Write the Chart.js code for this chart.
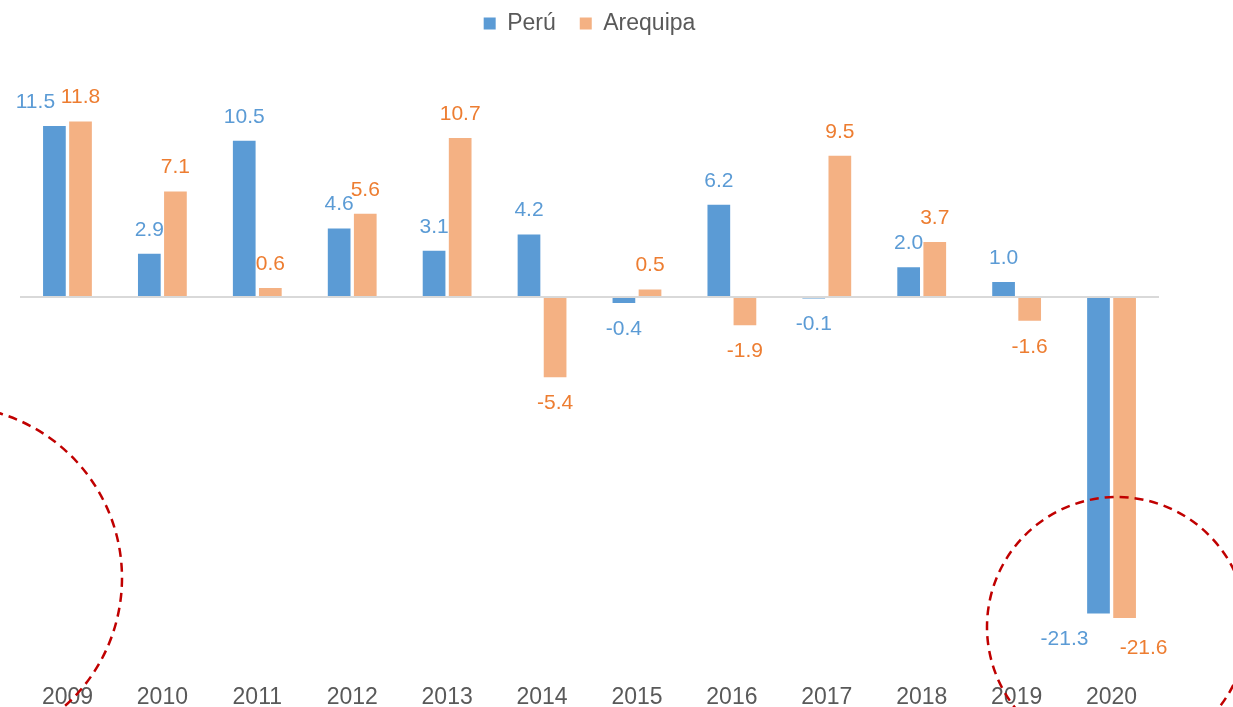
<!DOCTYPE html>
<html>
<head>
<meta charset="utf-8">
<script src="https://cdn.jsdelivr.net/npm/chart.js@4.4.1/dist/chart.umd.min.js"></script>
<style>
  html, body { margin: 0; padding: 0; background: #ffffff; }
  #wrap { width: 1233px; height: 707px; position: relative; }
</style>
</head>
<body>
<div id="wrap"><canvas id="c" width="1233" height="707"></canvas></div>
<script>
const years = ['2009','2010','2011','2012','2013','2014','2015','2016','2017','2018','2019','2020'];
const peru = [11.5, 2.9, 10.5, 4.6, 3.1, 4.2, -0.4, 6.2, -0.1, 2.0, 1.0, -21.3];
const arequipa = [11.8, 7.1, 0.6, 5.6, 10.7, -5.4, 0.5, -1.9, 9.5, 3.7, -1.6, -21.6];
const seriesNames = ['Perú', 'Arequipa'];

const barColors = ['#5B9BD5', '#F4B183'];
const labelColors = ['#5B9BD5', '#ED7D31'];
const textGrey = '#595959';
const FONT = '"Liberation Sans", Arial, sans-serif';

// manual label nudges (dataset index, point index) -> [dx, dy]
const labelNudge = {
  '0-0': [-19, 0],
  '0-11': [-34, 0],
  '1-11': [19, 4]
};

const labelPlugin = {
  id: 'barLabels',
  afterDatasetsDraw(chart) {
    const ctx = chart.ctx;
    ctx.save();
    ctx.font = '21px ' + FONT;
    ctx.textAlign = 'center';
    ctx.textBaseline = 'middle';
    chart.data.datasets.forEach((ds, di) => {
      const meta = chart.getDatasetMeta(di);
      meta.data.forEach((bar, i) => {
        const v = ds.data[i];
        const n = labelNudge[di + '-' + i] || [0, 0];
        const y = v >= 0 ? bar.y - 24 : bar.y + 26;
        ctx.fillStyle = labelColors[di];
        ctx.fillText(v.toFixed(1), bar.x + n[0], y + n[1]);
      });
    });
    ctx.restore();
  }
};

const circlePlugin = {
  id: 'circles',
  afterDraw(chart) {
    const ctx = chart.ctx;
    ctx.save();
    ctx.strokeStyle = '#C00000';
    ctx.lineWidth = 2.5;
    ctx.setLineDash([9, 6]);
    ctx.beginPath();
    ctx.arc(-50, 578, 172, 0, Math.PI * 2);
    ctx.stroke();
    ctx.beginPath();
    ctx.arc(1117, 627, 130, 0, Math.PI * 2);
    ctx.stroke();
    ctx.restore();
  }
};

new Chart(document.getElementById('c'), {
  type: 'bar',
  data: {
    labels: years,
    datasets: [
      { label: seriesNames[0], data: peru, backgroundColor: barColors[0] },
      { label: seriesNames[1], data: arequipa, backgroundColor: barColors[1] }
    ]
  },
  options: {
    responsive: false,
    animation: false,
    devicePixelRatio: 1,
    layout: { padding: { left: 20, right: 74, top: -12, bottom: -4 } },
    datasets: { bar: { categoryPercentage: 0.55, barPercentage: 0.87 } },
    plugins: {
      legend: {
        position: 'top',
        labels: {
          boxWidth: 12, boxHeight: 12,
          color: textGrey,
          font: { family: FONT, size: 23 },
          padding: 24
        }
      },
      tooltip: { enabled: false }
    },
    scales: {
      x: {
        grid: { display: false, drawTicks: false },
        border: { display: false },
        ticks: { color: textGrey, font: { family: FONT, size: 23 }, padding: 0, maxRotation: 0 }
      },
      y: {
        display: true,
        min: -26, max: 16.95,
        grid: {
          drawTicks: false,
          lineWidth: 2,
          color: (c) => (c.tick && c.tick.value === 0 ? '#D9D9D9' : 'rgba(0,0,0,0)')
        },
        border: { display: false },
        ticks: { display: false, stepSize: 1 }
      }
    }
  },
  plugins: [labelPlugin, circlePlugin]
});
</script>
</body>
</html>
